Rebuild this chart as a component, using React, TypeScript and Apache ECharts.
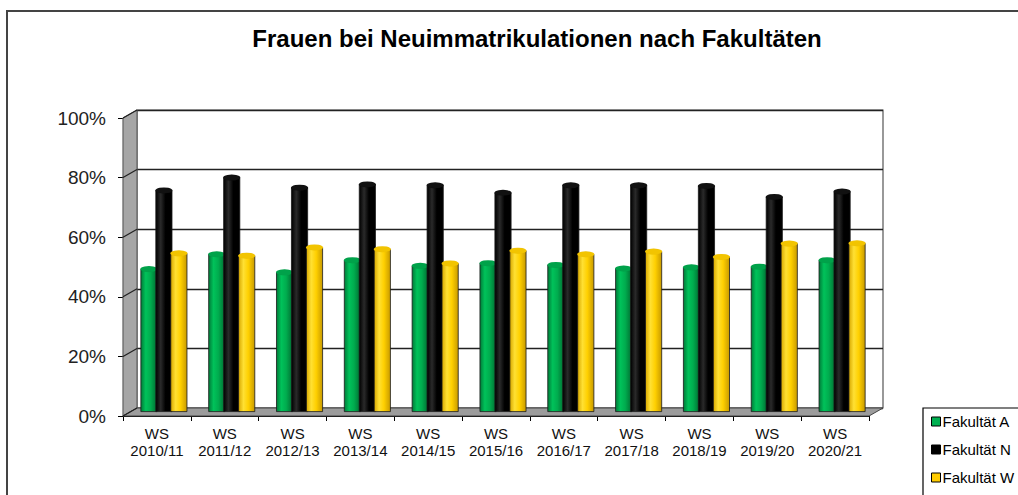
import React, { useEffect, useRef } from "react";
import * as echarts from "echarts";

const categories = [
  "WS 2010/11", "WS 2011/12", "WS 2012/13", "WS 2013/14", "WS 2014/15", "WS 2015/16",
  "WS 2016/17", "WS 2017/18", "WS 2018/19", "WS 2019/20", "WS 2020/21",
];
const fakultaetA = [48.2, 53.2, 47.1, 51.2, 49.3, 50.2, 49.6, 48.4, 48.8, 49.0, 51.2];
const fakultaetN = [74.7, 79.0, 75.6, 76.7, 76.4, 73.9, 76.4, 76.4, 76.2, 72.5, 74.3];
const fakultaetW = [53.5, 52.7, 55.5, 54.9, 50.1, 54.4, 53.2, 54.1, 52.3, 56.8, 56.9];
const yTicks = [0, 20, 40, 60, 80, 100];

const seriesNames = ["Fakultät A", "Fakultät N", "Fakultät W"];
const seriesData = [fakultaetA, fakultaetN, fakultaetW];
const bodyColors = [
  ["#007a38", "#00c25a", "#00ac4e", "#006c31"],
  ["#000000", "#2a2a2a", "#000000", "#000000"],
  ["#d8a800", "#ffe033", "#ffd000", "#c89a00"],
];
const topColors = ["#00a24a", "#111111", "#f2c400"];
const legendColors = ["#00b050", "#000000", "#ffcc00"];

const FONT = '"Liberation Sans", Arial, sans-serif';

export default function App() {
  const ref = useRef<HTMLDivElement>(null);
  useEffect(() => {
    if (!ref.current) return;
    const chart = echarts.init(ref.current, undefined, { renderer: "svg" });

    const frontLeft = 123, frontBottom = 416, frontTop = 118;
    const depthX = 14, depthY = 8;
    const plotW = 746;
    const plotH = frontBottom - frontTop;

    const bars: any[] = [];
    seriesData.forEach((data, i) => {
      const c = bodyColors[i];
      bars.push({
        name: seriesNames[i],
        type: "bar",
        xAxisIndex: 1,
        yAxisIndex: 1,
        data,
        barWidth: 17,
        barGap: "-12%",
        barCategoryGap: "35%",
        z: 2 + i * 2,
        itemStyle: {
          color: new echarts.graphic.LinearGradient(0, 0, 1, 0, [
            { offset: 0, color: c[0] },
            { offset: 0.3, color: c[1] },
            { offset: 0.6, color: c[2] },
            { offset: 1, color: c[3] },
          ]),
          borderColor: "#1a1a1a",
          borderWidth: 0.8,
        },
      });
      bars.push({
        name: seriesNames[i] + " top",
        type: "pictorialBar",
        xAxisIndex: 1,
        yAxisIndex: 1,
        data,
        symbol: "circle",
        symbolSize: [17, 6],
        symbolPosition: "end",
        symbolOffset: [0, "-50%"],
        barWidth: 17,
        barGap: "-12%",
        barCategoryGap: "35%",
        z: 3 + i * 2,
        itemStyle: { color: topColors[i], borderColor: "#1a1a1a", borderWidth: 0.8 },
      });
    });

    const sideLines = yTicks.map((t) => {
      const yF = frontBottom - (t / 100) * plotH;
      return {
        type: "line",
        z: 1,
        shape: { x1: frontLeft, y1: yF, x2: frontLeft + depthX, y2: yF - depthY },
        style: { stroke: "#222", lineWidth: 1.2 },
      };
    });

    chart.setOption({
      animation: false,
      title: {
        text: "Frauen bei Neuimmatrikulationen nach Fakultäten",
        left: 532,
        textAlign: "center",
        top: 21,
        textStyle: { fontFamily: FONT, fontSize: 24, fontWeight: "bold", color: "#000" },
      },
      legend: {
        data: seriesNames.map((n, i) => ({
          name: n,
          icon: "rect",
          itemStyle: { color: legendColors[i], borderColor: "#000", borderWidth: 1 },
        })),
        orient: "vertical",
        left: 931,
        top: 414,
        padding: 0,
        itemWidth: 9,
        itemHeight: 9,
        itemGap: 13,
        textStyle: { fontFamily: FONT, fontSize: 15, color: "#000", padding: [0, 0, 0, -3] },
      },
      grid: [
        {
          left: frontLeft + depthX,
          top: frontTop - depthY,
          width: plotW,
          height: plotH,
          show: true,
          backgroundColor: "#fff",
          borderColor: "#555",
          borderWidth: 1.2,
          z: 0,
        },
        {
          left: frontLeft + depthX / 2,
          top: frontTop - depthY / 2 + 1,
          width: plotW,
          height: plotH - 1,
        },
        {
          left: frontLeft,
          top: frontTop,
          width: plotW,
          height: plotH,
        },
      ],
      xAxis: [
        { type: "category", gridIndex: 0, data: categories, show: false },
        { type: "category", gridIndex: 1, data: categories, show: false },
        {
          type: "category",
          gridIndex: 2,
          data: categories,
          axisLine: { show: true, lineStyle: { color: "#000", width: 1.2 } },
          axisTick: { show: true, length: 5, lineStyle: { color: "#000" } },
          axisLabel: {
            fontFamily: FONT,
            fontSize: 15,
            lineHeight: 17,
            color: "#111",
            margin: 9,
            interval: 0,
            formatter: (v: string) => v.replace(" ", "\n"),
          },
        },
      ],
      yAxis: [
        {
          type: "value",
          gridIndex: 0,
          min: 0,
          max: 100,
          interval: 20,
          axisLabel: { show: false },
          axisLine: { show: false },
          axisTick: { show: false },
          splitLine: { show: true, lineStyle: { color: "#222", width: 1.4 } },
        },
        { type: "value", gridIndex: 1, min: 0, max: 100, interval: 20, show: false },
        {
          type: "value",
          gridIndex: 2,
          min: 0,
          max: 100,
          interval: 20,
          axisLine: { show: true, lineStyle: { color: "#000", width: 1.2 } },
          axisTick: { show: true, length: 5, lineStyle: { color: "#000" } },
          splitLine: { show: false },
          axisLabel: {
            fontFamily: FONT,
            fontSize: 19,
            color: "#222",
            margin: 17,
            formatter: "{value}%",
          },
        },
      ],
      graphic: [
        {
          type: "rect",
          z: 0,
          shape: { x: 7, y: 11, width: 1030, height: 520 },
          style: { fill: "none", stroke: "#444", lineWidth: 2 },
        },
        {
          type: "polygon",
          z: 1,
          shape: {
            points: [
              [frontLeft, frontTop],
              [frontLeft + depthX, frontTop - depthY],
              [frontLeft + depthX, frontBottom - depthY],
              [frontLeft, frontBottom],
            ],
          },
          style: { fill: "#a6a6a6", stroke: "#555", lineWidth: 1 },
        },
        {
          type: "polygon",
          z: 1,
          shape: {
            points: [
              [frontLeft, frontBottom],
              [frontLeft + depthX, frontBottom - depthY],
              [frontLeft + depthX + plotW, frontBottom - depthY],
              [frontLeft + plotW, frontBottom],
            ],
          },
          style: { fill: "#9c9c9c", stroke: "#444", lineWidth: 1 },
        },
        ...sideLines,
        {
          type: "rect",
          z: 0,
          shape: { x: 923, y: 408, width: 120, height: 120 },
          style: { fill: "#fff", stroke: "#000", lineWidth: 1.2 },
        },
      ],
      series: bars,
    });
    return () => chart.dispose();
  }, []);
  return (
    <div
      ref={ref}
      style={{ position: "fixed", left: 0, top: 0, width: 1018, height: 495, background: "#fff" }}
    />
  );
}
